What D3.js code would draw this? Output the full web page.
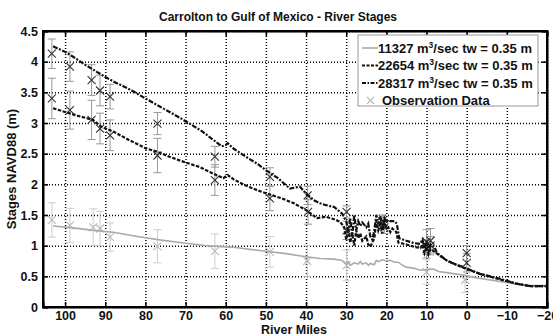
<!DOCTYPE html>
<html>
<head>
<meta charset="utf-8">
<script src="https://cdn.jsdelivr.net/npm/d3@7"></script>
<style>
  body { margin: 0; background: #fff; }
  text { font-family: "Liberation Sans", Arial, sans-serif; font-weight: bold; }
</style>
</head>
<body>
<div id="chart"></div>
<script>
// model runs: [river mile, stage m]
const run11327 = [[103,1.32],[98,1.29],[93,1.25],[88,1.22],[82,1.15],[76,1.09],[70,1.04],[65,1.00],[60,0.98],[57.5,0.97],[54,0.94],[50,0.91],[45,0.87],[40,0.82],[36.5,0.79],[33,0.78],[31,0.76],[30,0.70],[29.5,0.74],[29,0.68],[28,0.72],[27,0.70],[26.5,0.74],[26,0.70],[25,0.72],[24.5,0.68],[24,0.71],[23,0.69],[22.5,0.76],[22,0.74],[21,0.77],[20,0.75],[19,0.76],[18,0.73],[17,0.73],[16,0.68],[15,0.65],[13,0.63],[11.6,0.60],[10,0.61],[8.3,0.62],[7,0.58],[5,0.56],[3,0.54],[0.8,0.52],[-3,0.47],[-9,0.41],[-12,0.38],[-15.8,0.35],[-20,0.35]];

const run22654 = [[103,3.24],[100,3.18],[97,3.12],[93,3.05],[91,2.94],[88,2.86],[84,2.72],[80,2.59],[77,2.53],[74,2.45],[70.6,2.37],[66.4,2.28],[63,2.17],[60.6,2.10],[59.5,2.15],[58,2.08],[55,1.98],[52,1.90],[49.8,1.85],[46,1.77],[43,1.69],[40,1.58],[37.3,1.45],[35,1.47],[34,1.45],[33,1.43],[31.5,1.39],[30.5,1.30],[30,1.10],[29.5,1.28],[29,1.05],[28.5,1.20],[28,1.00],[27.5,1.25],[27,1.12],[26.5,1.20],[26,1.08],[25,1.15],[24.5,1.02],[24,0.98],[23.5,1.05],[23,1.12],[22.5,1.40],[22,1.25],[21.5,1.35],[21,1.20],[20.5,1.38],[20,1.28],[19.5,1.30],[19,1.22],[18.5,1.28],[17.5,1.22],[17,1.05],[15,1.02],[13,0.98],[11.5,0.96],[11,1.02],[10.5,0.88],[10,0.98],[9.5,0.86],[9,0.95],[8,0.90],[7,0.85],[5,0.76],[3,0.70],[0.8,0.64],[-3.3,0.54],[-8.3,0.45],[-12.4,0.38],[-15.8,0.34],[-20,0.34]];

const run28317 = [[103,4.25],[100,4.16],[98,4.08],[95,3.95],[92,3.83],[90,3.75],[87.5,3.66],[85.5,3.60],[83.4,3.53],[80,3.40],[77,3.29],[74,3.18],[71,3.07],[68,2.95],[66,2.87],[63,2.72],[61,2.62],[60,2.64],[59.5,2.67],[58,2.58],[55,2.45],[52,2.33],[50,2.23],[47,2.10],[44,1.93],[42.5,1.95],[41.5,1.96],[40,1.85],[38,1.74],[36.5,1.69],[35,1.66],[33,1.63],[31,1.52],[30,1.40],[29.5,1.22],[29,1.45],[28.5,1.15],[28,1.50],[27.5,1.25],[27,1.40],[26.5,1.32],[26,1.38],[25,1.30],[24.5,1.36],[24,1.15],[23.5,1.10],[23,1.25],[22.5,1.50],[22,1.35],[21.5,1.48],[21,1.30],[20.5,1.45],[20,1.38],[19.5,1.42],[19,1.40],[18,1.40],[17.4,1.36],[16.8,1.12],[15,1.08],[13,1.04],[11.6,1.03],[11,1.10],[10.5,0.95],[10,1.08],[9.5,0.92],[9,1.02],[8,0.98],[7.5,0.89],[5,0.76],[3,0.70],[0.8,0.65],[-3.3,0.54],[-8.3,0.46],[-12.4,0.38],[-15.8,0.34],[-20,0.34]];

// observations: [river mile, stage, error]
const obs11327 = [[103.3,1.42,0.28],[98.8,1.33,0.28],[93,1.30,0.30],[91.3,1.28,0.28],[88.8,1.14,0.23],[77,0.99,0.27],[62.7,0.91,0.28],[49,0.90,0.25],[39.7,0.75,0.25],[29.9,0.68,0.25],[10,0.57,0.2],[0.4,0.44,0.2]];
const obs22654 = [[103.3,3.40,0.33],[98.8,3.21,0.31],[93.4,3.05,0.32],[91.3,2.91,0.25],[88.8,2.80,0.25],[77,2.47,0.28],[62.7,2.07,0.25],[49,1.77,0.2],[39.5,1.55,0.2],[29.9,1.25,0.15],[20.5,1.30,0.1],[10,0.95,0.15],[9,1.00,0.15],[0,0.72,0.15]];
const obs28317 = [[103.3,4.13,0.24],[98.8,3.92,0.24],[93.4,3.70,0.25],[91.3,3.53,0.25],[88.8,3.43,0.20],[77,2.99,0.18],[62.7,2.45,0.17],[49,2.12,0.15],[39.6,1.82,0.15],[29.9,1.55,0.1],[21,1.40,0.1],[10,1.06,0.2],[9,1.08,0.2],[0,0.88,0.12]];

const xTicks = [100, 90, 80, 70, 60, 50, 40, 30, 20, 10, 0, -10, -20];
const yTicks = [0, 0.5, 1, 1.5, 2, 2.5, 3, 3.5, 4, 4.5];
const legendLabels = ["11327", "22654", "28317"];

const W = 553, H = 336;
const m = {left: 43, right: 6, top: 31, bottom: 29};

const svg = d3.select("#chart").append("svg")
  .attr("width", W).attr("height", H);

const x = d3.scaleLinear().domain([105.5, -20]).range([m.left, W - m.right]);
const y = d3.scaleLinear().domain([0, 4.5]).range([H - m.bottom, m.top]);

// grid
svg.append("g")
  .attr("transform", "translate(0," + (H - m.bottom) + ")")
  .call(d3.axisBottom(x).tickValues(xTicks).tickSize(-(H - m.top - m.bottom)).tickFormat(""))
  .call(g => g.select(".domain").remove())
  .selectAll("line").attr("stroke", "#bbb").attr("stroke-dasharray", "1,2");
svg.append("g")
  .attr("transform", "translate(" + m.left + ",0)")
  .call(d3.axisLeft(y).tickValues(yTicks).tickSize(-(W - m.left - m.right)).tickFormat(""))
  .call(g => g.select(".domain").remove())
  .selectAll("line").attr("stroke", "#bbb").attr("stroke-dasharray", "1,2");

const line = d3.line().x(d => x(d[0])).y(d => y(d[1]));

// observation markers with error bars
function drawObs(data, markColor, barColor) {
  const g = svg.append("g");
  data.forEach(d => {
    const cx = x(d[0]), lo = y(d[1] - d[2]), hi = y(d[1] + d[2]);
    g.append("line").attr("x1", cx).attr("x2", cx).attr("y1", lo).attr("y2", hi)
      .attr("stroke", barColor).attr("stroke-width", 1);
    [lo, hi].forEach(v => g.append("line").attr("x1", cx - 4).attr("x2", cx + 4)
      .attr("y1", v).attr("y2", v).attr("stroke", barColor).attr("stroke-width", 1));
    const cy = y(d[1]), s = 4;
    g.append("path").attr("d", `M${cx - s},${cy - s}L${cx + s},${cy + s}M${cx - s},${cy + s}L${cx + s},${cy - s}`)
      .attr("stroke", markColor).attr("stroke-width", 1.1).attr("fill", "none");
  });
}
drawObs(obs11327, "#bbb", "#ccc");
drawObs(obs22654, "#333", "#999");
drawObs(obs28317, "#333", "#999");

svg.append("path").datum(run11327).attr("d", line)
  .attr("fill", "none").attr("stroke", "#aaa").attr("stroke-width", 1.6);
svg.append("path").datum(run22654).attr("d", line)
  .attr("fill", "none").attr("stroke", "#111").attr("stroke-width", 2.2).attr("stroke-dasharray", "3.5,1.5");
svg.append("path").datum(run28317).attr("d", line)
  .attr("fill", "none").attr("stroke", "#111").attr("stroke-width", 2.2).attr("stroke-dasharray", "5,1.5,2,1.5");

// axes: ticks inward on all four sides
const tickLen = 5;
const gx = svg.append("g").attr("transform", "translate(0," + (H - m.bottom) + ")")
  .call(d3.axisBottom(x).tickValues(xTicks).tickSize(-tickLen).tickPadding(4).tickFormat(d3.format("d")));
const gy = svg.append("g").attr("transform", "translate(" + m.left + ",0)")
  .call(d3.axisLeft(y).tickValues(yTicks).tickSize(-tickLen).tickPadding(5).tickFormat(d => d));
svg.append("g").attr("transform", "translate(0," + m.top + ")")
  .call(d3.axisTop(x).tickValues(xTicks).tickSize(-tickLen).tickFormat(""));
svg.append("g").attr("transform", "translate(" + (W - m.right) + ",0)")
  .call(d3.axisRight(y).tickValues(yTicks).tickSize(-tickLen).tickFormat(""));
svg.selectAll(".domain").attr("stroke", "#000").attr("stroke-width", 2);
svg.selectAll(".tick line").attr("stroke", "#000").attr("stroke-width", 1.5);
gx.selectAll("text").attr("font-size", 12.5).attr("fill", "#111").style("font-weight", "bold");
gy.selectAll("text").attr("font-size", 12.5).attr("fill", "#111").style("font-weight", "bold");

// frame on top
svg.append("rect").attr("x", m.left).attr("y", m.top)
  .attr("width", W - m.left - m.right).attr("height", H - m.top - m.bottom)
  .attr("fill", "none").attr("stroke", "#000").attr("stroke-width", 2);

// titles
svg.append("text").attr("x", 278).attr("y", 21).attr("text-anchor", "middle")
  .attr("font-size", 12).attr("fill", "#111").text("Carrolton to Gulf of Mexico - River Stages");
svg.append("text").attr("x", 294).attr("y", 334).attr("text-anchor", "middle")
  .attr("font-size", 12.5).attr("fill", "#111").text("River Miles");
svg.append("text").attr("transform", "translate(16," + ((m.top + H - m.bottom) / 2) + ") rotate(-90)")
  .attr("text-anchor", "middle").attr("font-size", 13).attr("fill", "#111").text("Stages NAVD88 (m)");

// legend
const lg = svg.append("g").attr("transform", "translate(358,35)");
lg.append("rect").attr("width", 180).attr("height", 71)
  .attr("fill", "#fff").attr("stroke", "#999").attr("stroke-width", 1);
const styles = [
  {stroke: "#aaa", dash: null, w: 1.6},
  {stroke: "#111", dash: "3,1.5", w: 2},
  {stroke: "#111", dash: "4,1.5,1.5,1.5", w: 2}
];
legendLabels.forEach((lab, i) => {
  const yy = 13 + i * 17.5;
  lg.append("line").attr("x1", 4).attr("x2", 20).attr("y1", yy).attr("y2", yy)
    .attr("stroke", styles[i].stroke).attr("stroke-width", styles[i].w)
    .attr("stroke-dasharray", styles[i].dash);
  const t = lg.append("text").attr("x", 20).attr("y", yy + 4.5).attr("font-size", 13).attr("fill", "#111");
  t.append("tspan").text(lab + " m");
  t.append("tspan").attr("font-size", 8.5).attr("dy", -5).text("3");
  t.append("tspan").attr("dy", 5).text("/sec tw = 0.35 m");
});
const oy = 13 + 3 * 17.5;
lg.append("path").attr("d", `M${9},${oy - 3.5}L${16},${oy + 3.5}M${9},${oy + 3.5}L${16},${oy - 3.5}`)
  .attr("stroke", "#bbb").attr("stroke-width", 1.1);
lg.append("text").attr("x", 24).attr("y", oy + 4.5).attr("font-size", 13).attr("fill", "#111")
  .text("Observation Data");
</script>
</body>
</html>
